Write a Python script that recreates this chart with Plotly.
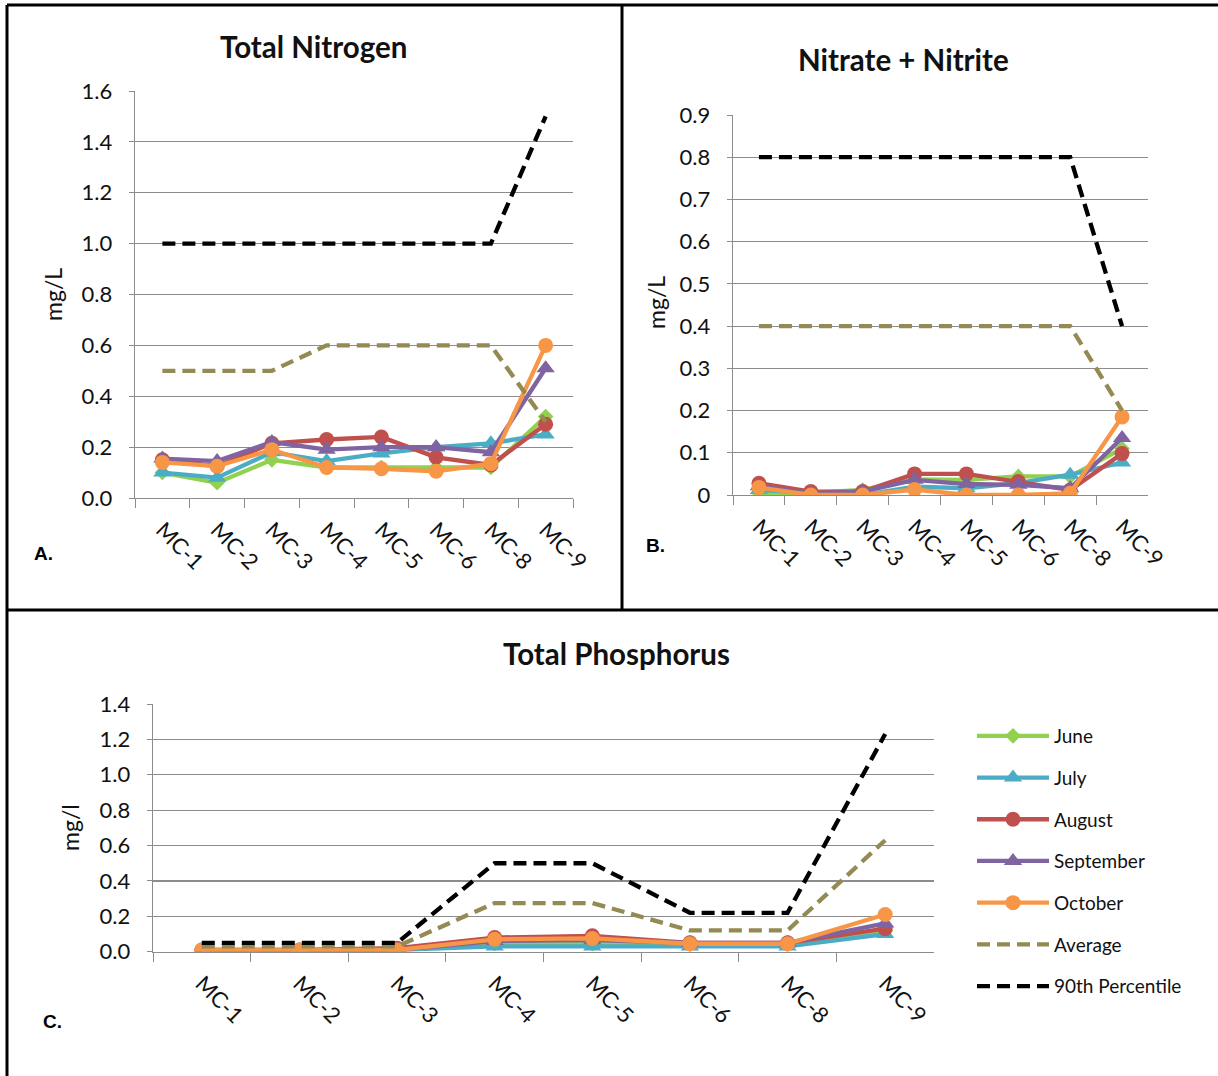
import plotly.graph_objects as go

# ---------------- data ----------------
sites = ["MC-1", "MC-2", "MC-3", "MC-4", "MC-5", "MC-6", "MC-8", "MC-9"]

# Total Nitrogen (mg/L)
tn_june = [0.10, 0.06, 0.15, 0.12, 0.12, 0.12, 0.12, 0.32]
tn_july = [0.10, 0.08, 0.18, 0.145, 0.175, 0.20, 0.215, 0.25]
tn_august = [0.15, 0.125, 0.215, 0.23, 0.24, 0.16, 0.13, 0.29]
tn_september = [0.155, 0.145, 0.22, 0.19, 0.20, 0.20, 0.18, 0.51]
tn_october = [0.14, 0.125, 0.19, 0.12, 0.115, 0.105, 0.135, 0.60]
tn_average = [0.50, 0.50, 0.50, 0.60, 0.60, 0.60, 0.60, 0.30]
tn_p90 = [1.0, 1.0, 1.0, 1.0, 1.0, 1.0, 1.0, 1.5]

# Nitrate + Nitrite (mg/L)
nn_june = [0.005, 0.005, 0.012, 0.037, 0.036, 0.044, 0.044, 0.11]
nn_july = [0.012, 0.005, 0.0, 0.02, 0.016, 0.028, 0.048, 0.077]
nn_august = [0.028, 0.008, 0.008, 0.05, 0.05, 0.032, 0.012, 0.098]
nn_september = [0.021, 0.004, 0.008, 0.036, 0.026, 0.024, 0.016, 0.135]
nn_october = [0.018, 0.0, 0.0, 0.013, 0.0, 0.0, 0.004, 0.185]
nn_average = [0.4, 0.4, 0.4, 0.4, 0.4, 0.4, 0.4, 0.2]
nn_p90 = [0.8, 0.8, 0.8, 0.8, 0.8, 0.8, 0.8, 0.4]

# Total Phosphorus (mg/l)
tp_june = [0.01, 0.01, 0.01, 0.045, 0.045, 0.04, 0.04, 0.12]
tp_july = [0.0, 0.0, 0.01, 0.03, 0.03, 0.03, 0.03, 0.10]
tp_august = [0.01, 0.01, 0.02, 0.08, 0.09, 0.05, 0.05, 0.13]
tp_september = [0.005, 0.01, 0.01, 0.06, 0.065, 0.05, 0.05, 0.16]
tp_october = [0.01, 0.01, 0.01, 0.07, 0.075, 0.045, 0.045, 0.21]
tp_average = [0.03, 0.03, 0.03, 0.275, 0.275, 0.12, 0.12, 0.63]
tp_p90 = [0.05, 0.05, 0.05, 0.50, 0.50, 0.22, 0.22, 1.23]

series_names = ["June", "July", "August", "September", "October", "Average", "90th Percentile"]
colors = ["#92D050", "#4BACC6", "#C0504D", "#8064A2", "#F79646", "#948A54", "#000000"]
symbols = ["diamond", "triangle-up", "circle", "triangle-up", "circle", None, None]
msizes = [12, 16, 15, 16, 15, 0, 0]

panels = [
    dict(title="Total Nitrogen", data=[tn_june, tn_july, tn_august, tn_september, tn_october, tn_average, tn_p90]),
    dict(title="Nitrate + Nitrite", data=[nn_june, nn_july, nn_august, nn_september, nn_october, nn_average, nn_p90]),
    dict(title="Total Phosphorus", data=[tp_june, tp_july, tp_august, tp_september, tp_october, tp_average, tp_p90]),
]

W, H = 1218, 1076
FONT = "Lato"

def px(x):
    return x / W

def py(y):
    return 1 - y / H

fig = go.Figure()

axes = [("x", "y"), ("x2", "y2"), ("x3", "y3")]
for pi, panel in enumerate(panels):
    xa, ya = axes[pi]
    for si, name in enumerate(series_names):
        vals = panel["data"][si]
        dashed = symbols[si] is None
        tr = dict(
            x=sites, y=vals, name=name, xaxis=xa, yaxis=ya,
            line=dict(color=colors[si], width=4.3,
                      dash="13px,7px" if dashed else "solid"),
            showlegend=(pi == 2), legendgroup=name,
            hoverinfo="skip",
        )
        if dashed:
            tr["mode"] = "lines"
        else:
            tr["mode"] = "lines+markers"
            tr["marker"] = dict(symbol=symbols[si], size=msizes[si], color=colors[si],
                                line=dict(width=0))
        fig.add_trace(go.Scatter(**tr))

grid = "#8C8C8C"
tickfont = dict(family=FONT, size=22, color="#111111")

def xaxis(domain, anchor):
    return dict(domain=domain, anchor=anchor, type="category", categoryorder="array",
                categoryarray=sites, tickson="boundaries", ticks="outside", ticklen=9,
                tickcolor=grid, showline=True, linecolor=grid, linewidth=1.3,
                ticklabelstandoff=9,
                showgrid=False, tickangle=45, tickfont=tickfont, zeroline=False,
                range=[-0.5, len(sites) - 0.5], fixedrange=True, automargin=False)

def yaxis(domain, anchor, rng, dtick, fmt):
    return dict(domain=domain, anchor=anchor, range=rng, dtick=dtick, tick0=0,
                tickformat=fmt, ticks="outside", ticklen=5, tickcolor=grid,
                ticklabelstandoff=12,
                showline=True, linecolor=grid, linewidth=1.3, showgrid=True,
                gridcolor=grid, gridwidth=1.2, zeroline=False, tickfont=tickfont,
                fixedrange=True, automargin=False)

fig.update_layout(
    width=W, height=H, autosize=False,
    margin=dict(l=0, r=0, t=0, b=0, pad=0, autoexpand=False),
    paper_bgcolor="white", plot_bgcolor="white",
    font=dict(family=FONT, color="#111111"),
    xaxis=xaxis([px(135), px(573)], "y"),
    yaxis=yaxis([py(498), py(91)], "x", [0, 1.6], 0.2, ".1f"),
    xaxis2=xaxis([px(733), px(1148)], "y2"),
    yaxis2=yaxis([py(495), py(115)], "x2", [0, 0.9], 0.1, ""),
    xaxis3=xaxis([px(153), px(934)], "y3"),
    yaxis3=yaxis([py(951.7), py(704)], "x3", [0, 1.4], 0.2, ".1f"),
    legend=dict(x=px(972), y=py(717), xanchor="left", yanchor="top",
                font=dict(family=FONT, size=19, color="#111111"),
                tracegroupgap=14, itemwidth=72, bgcolor="rgba(0,0,0,0)"),
)

anns = [
    dict(text="<b>Total Nitrogen</b>", x=px(313), y=py(47)),
    dict(text="<b>Nitrate + Nitrite</b>", x=px(903), y=py(60)),
    dict(text="<b>Total Phosphorus</b>", x=px(616), y=py(653)),
]
for a in anns:
    fig.add_annotation(text=a["text"], x=a["x"], y=a["y"], xref="paper", yref="paper",
                       showarrow=False, xanchor="center", yanchor="middle",
                       font=dict(family=FONT, size=29.5, color="#111111"))

for txt, x, y in [("mg/L", 53, 295), ("mg/L", 656, 303), ("mg/l", 70, 828)]:
    fig.add_annotation(text=txt, x=px(x), y=py(y), xref="paper", yref="paper",
                       showarrow=False, textangle=-90, xanchor="center", yanchor="middle",
                       font=dict(family=FONT, size=23, color="#111111"))

for txt, x, y in [("A.", 43, 553), ("B.", 655, 545), ("C.", 52, 1021)]:
    fig.add_annotation(text="<b>" + txt + "</b>", x=px(x), y=py(y), xref="paper", yref="paper",
                       showarrow=False, xanchor="center", yanchor="middle",
                       font=dict(family="Liberation Sans", size=19, color="#000000"))

# frame lines
frame = [(7, 5, W, 5), (7, 5, 7, H), (622, 5, 622, 610), (7, 610, W, 610)]
for x0, y0, x1, y1 in frame:
    fig.add_shape(type="line", xref="paper", yref="paper",
                  x0=px(x0), y0=py(y0), x1=px(x1), y1=py(y1),
                  line=dict(color="black", width=3))

fig.write_html("out.html", config={"displayModeBar": False, "staticPlot": True},
               post_script="document.body.style.margin='0';document.body.style.overflow='hidden';")
